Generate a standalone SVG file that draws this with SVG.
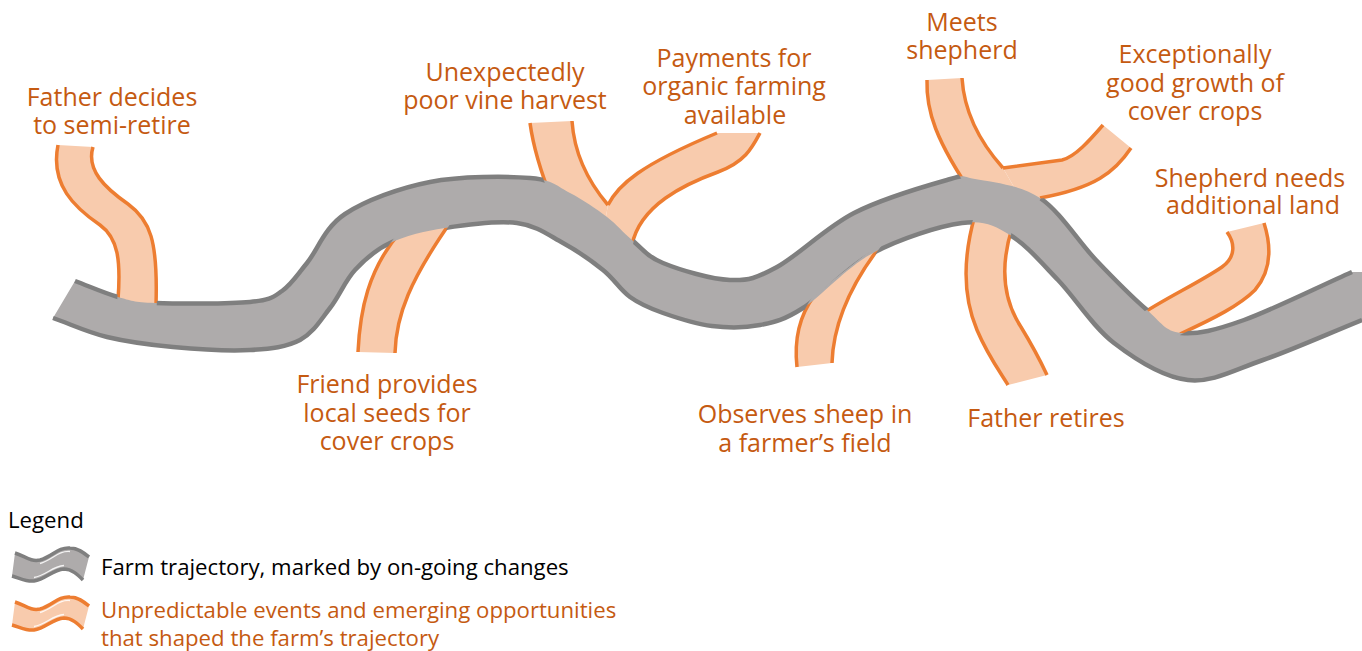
<svg xmlns="http://www.w3.org/2000/svg" xmlns:xlink="http://www.w3.org/1999/xlink" width="1362" height="651" viewBox="0 0 1362 651">
<style>
.lbl{font-family:"Open Sans","Liberation Sans",sans-serif;font-size:25px;fill:#C55A11;text-anchor:middle}
.leg{font-family:"Open Sans","Liberation Sans",sans-serif;font-size:22.2px}
.bf{fill:#F8CBAD}
.be{fill:none;stroke:#ED7D31;stroke-width:3.5}
.tf{fill:#AEABAB}
.te{fill:none;stroke:#7F7F7F;stroke-width:4.5}
.hl{fill:none;stroke:#fff;stroke-width:1.3;opacity:0.85}
</style>
<defs>
<path id="f1" d="M58,145 C50,185 75,208 100,225 C118,238 121,260 118,300 L118,312 L156,312 L156,305 C158,240 150,220 128,204 C105,188 86,170 93,147 Z"/>
<path id="f2" d="M358,352 C360,310 368,270 400,232 L452,220 C410,280 396,315 395,353 Z"/>
<path id="f3" d="M530,123 C533,145 540,170 552,200 L600,250 L608,205 C585,178 574,150 572,121 Z"/>
<path id="f4" d="M608,205 C618,185 640,165 717,133 L760,133 C752,148 745,162 718,172 C685,184 640,205 632,245 L600,250 Z"/>
<path id="f5" d="M927,80 C926,110 935,140 975,198 L1030,215 L1003,168 C978,140 964,110 962,78 Z"/>
<path id="f6" d="M1003,168 L1062,160 C1075,157 1090,140 1103,125 L1131,148 C1115,172 1095,188 1040,198 L1030,215 Z"/>
<path id="f7" d="M975,215 C965,250 960,290 977,330 C987,354 1000,372 1008,385 L1047,375 C1040,360 1032,345 1021,327 C1000,295 1002,260 1012,228 L1000,215 Z"/>
<path id="f8" d="M797,367 C794,340 800,315 814,296 L885,240 C845,290 833,330 832,363 Z"/>
<path id="f9" d="M1227,232 C1235,243 1236,257 1222,267 C1200,282 1170,296 1145,312 L1165,340 L1180,334 C1215,318 1240,305 1255,290 C1272,270 1271,245 1264,223 Z"/>
<mask id="edgeMask" maskUnits="userSpaceOnUse" x="0" y="0" width="1362" height="651">
<rect width="1362" height="651" fill="#fff"/>
<g fill="#000" stroke="#000" stroke-width="1.5">
<use href="#f1"/><use href="#f2"/><use href="#f3"/><use href="#f4"/><use href="#f5"/><use href="#f6"/><use href="#f7"/><use href="#f8"/><use href="#f9"/>
</g>
</mask>
<path id="gw-top" d="M15,553 C25,556 30,562 40,560 C52,557 58,547 70,548 C78,548 84,553 89,557"/>
<path id="gw-bot" d="M12,576 C20,578 26,582 34,581 C46,579 52,570 64,569 C72,569 78,575 83,580"/>
<path id="gw-fill" d="M15,553 C25,556 30,562 40,560 C52,557 58,547 70,548 C78,548 84,553 89,557 L83,580 C78,575 72,569 64,569 C52,570 46,579 34,581 C26,582 20,578 12,576 Z"/>
</defs>

<g id="n-father-semi-retire">
<use href="#f1" class="bf"/>
<path class="be" d="M58,145 C50,185 75,208 100,225 C118,238 121,260 118,300"/>
<path class="be" d="M93,147 C86,170 105,188 128,204 C150,220 158,240 156,305"/>
<text class="lbl" x="112" y="106">Father decides</text>
<text class="lbl" x="112" y="134">to semi-retire</text>
</g>

<g id="n-friend-seeds">
<use href="#f2" class="bf"/>
<path class="be" d="M358,352 C360,310 368,270 400,232"/>
<path class="be" d="M395,353 C396,315 410,280 452,220"/>
<text class="lbl" x="387" y="393">Friend provides</text>
<text class="lbl" x="387" y="421.5">local seeds for</text>
<text class="lbl" x="387" y="450">cover crops</text>
</g>

<g id="n-poor-vine-harvest">
<use href="#f3" class="bf"/>
<path class="be" d="M530,123 C533,145 540,170 552,200"/>
<path class="be" d="M572,121 C574,150 585,178 608,205"/>
<text class="lbl" x="505" y="81">Unexpectedly</text>
<text class="lbl" x="505" y="109">poor vine harvest</text>
</g>

<g id="n-organic-payments">
<use href="#f4" class="bf"/>
<path class="be" d="M608,205 C618,185 640,165 717,133"/>
<path class="be" d="M760,133 C752,148 745,162 718,172 C685,184 640,205 632,245"/>
<text class="lbl" x="734" y="66.5">Payments for</text>
<text class="lbl" x="734" y="95">organic farming</text>
<text class="lbl" x="735" y="123.5">available</text>
</g>

<g id="n-meets-shepherd">
<use href="#f5" class="bf"/>
<path class="be" d="M927,80 C926,110 935,140 975,198"/>
<path class="be" d="M962,78 C964,110 978,140 1003,168"/>
<text class="lbl" x="962" y="30.5">Meets</text>
<text class="lbl" x="962" y="59">shepherd</text>
</g>

<g id="n-good-growth">
<use href="#f6" class="bf"/>
<path class="be" d="M1003,168 L1062,160 C1075,157 1090,140 1103,125"/>
<path class="be" d="M1131,148 C1115,172 1095,188 1040,198"/>
<text class="lbl" x="1195" y="63">Exceptionally</text>
<text class="lbl" x="1195" y="91.5">good growth of</text>
<text class="lbl" x="1195" y="120">cover crops</text>
</g>

<g id="n-father-retires">
<use href="#f7" class="bf"/>
<path class="be" d="M975,215 C965,250 960,290 977,330 C987,354 1000,372 1008,385"/>
<path class="be" d="M1012,228 C1002,260 1000,295 1021,327 C1032,345 1040,360 1047,375"/>
<text class="lbl" x="1046" y="426.5">Father retires</text>
</g>

<g id="n-observes-sheep">
<use href="#f8" class="bf"/>
<path class="be" d="M797,367 C794,340 800,315 814,296"/>
<path class="be" d="M832,363 C833,330 845,290 885,240"/>
<text class="lbl" x="805" y="422.5">Observes sheep in</text>
<text class="lbl" x="805" y="451.5">a farmer’s field</text>
</g>

<g id="n-shepherd-land">
<use href="#f9" class="bf"/>
<path class="be" d="M1227,232 C1235,243 1236,257 1222,267 C1200,282 1170,296 1145,312"/>
<path class="be" d="M1264,223 C1271,245 1272,270 1255,290 C1240,305 1215,318 1180,334"/>
<text class="lbl" x="1250" y="186.5">Shepherd needs</text>
<text class="lbl" x="1253" y="214">additional land</text>
</g>

<g id="n-trajectory">
<path class="tf" d="M75,281 C89.3,286.3 104.7,293.3 118,297 S133,302.2 155,303 S228.8,304 250,302 S272.5,297.5 282,291 S296.5,275.8 307,263 S324.5,227.5 345,214 S399.2,188 430,182 S506.7,176.2 530,178 S557.2,186.5 570,193 S596.7,209.2 607,217 S622.7,232.3 632,240 S646.7,256.3 663,263 S711,279.3 730,280 S756.3,278.2 777,267 S825.7,227.5 854,213 S926.8,185.7 947,180 S959.5,176 975,179 S1019.8,184.5 1040,198 S1078.2,241.3 1096,260 S1132.8,297.8 1147,310 S1164.8,331.3 1181,333 S1215.5,330.2 1244,320 S1316,288 1352,272 L1362,272 L1362,320 C1329,333.3 1292,350 1263,360 S1212.8,382.8 1188,380 S1135.7,359.7 1114,343 S1075.3,298 1058,280 S1026,244.5 1010,235 S984.8,220 962,223 S899.5,238.8 873,253 S821.8,296 803,308 S775.2,322 760,325 S728.2,328 712,326 S676.7,317.8 663,313 S640,304.2 630,297 S614.2,279 603,270 S577.3,250.8 563,243 S536.7,225.5 517,223 S466.2,224.7 445,228 S405,236 390,243 S365,259.2 355,270 S339.2,296.3 330,308 S313.3,333 300,340 S271.2,348.8 250,350 S196.8,349.2 173,347 S127,341.8 107,337 S71,324.3 53,318 Z"/>
<g mask="url(#edgeMask)">
<path class="te" d="M75,281 C89.3,286.3 104.7,293.3 118,297 S133,302.2 155,303 S228.8,304 250,302 S272.5,297.5 282,291 S296.5,275.8 307,263 S324.5,227.5 345,214 S399.2,188 430,182 S506.7,176.2 530,178 S557.2,186.5 570,193 S596.7,209.2 607,217 S622.7,232.3 632,240 S646.7,256.3 663,263 S711,279.3 730,280 S756.3,278.2 777,267 S825.7,227.5 854,213 S926.8,185.7 947,180 S959.5,176 975,179 S1019.8,184.5 1040,198 S1078.2,241.3 1096,260 S1132.8,297.8 1147,310 S1164.8,331.3 1181,333 S1215.5,330.2 1244,320 S1316,288 1352,272"/>
<path class="te" d="M1362,320 C1329,333.3 1292,350 1263,360 S1212.8,382.8 1188,380 S1135.7,359.7 1114,343 S1075.3,298 1058,280 S1026,244.5 1010,235 S984.8,220 962,223 S899.5,238.8 873,253 S821.8,296 803,308 S775.2,322 760,325 S728.2,328 712,326 S676.7,317.8 663,313 S640,304.2 630,297 S614.2,279 603,270 S577.3,250.8 563,243 S536.7,225.5 517,223 S466.2,224.7 445,228 S405,236 390,243 S365,259.2 355,270 S339.2,296.3 330,308 S313.3,333 300,340 S271.2,348.8 250,350 S196.8,349.2 173,347 S127,341.8 107,337 S71,324.3 53,318"/>
</g>
</g>

<g id="legend">
<text class="leg" x="8" y="528" fill="#000">Legend</text>
<g id="legend-trajectory">
<use href="#gw-fill" class="tf"/>
<use href="#gw-top" class="te" style="stroke-width:3.5"/>
<use href="#gw-bot" class="te" style="stroke-width:3.5"/>
<path class="hl" d="M40,563.5 C52,560.5 58,550.5 70,551.5"/>
<path class="hl" d="M34,577.5 C46,575.5 52,566.5 64,565.5"/>
<text class="leg" x="101" y="575" fill="#000">Farm trajectory, marked by on-going changes</text>
</g>
<g id="legend-events">
<g transform="translate(0,49)">
<use href="#gw-fill" class="bf"/>
<use href="#gw-top" class="be"/>
<use href="#gw-bot" class="be"/>
<path class="hl" d="M40,563.5 C52,560.5 58,550.5 70,551.5"/>
<path class="hl" d="M34,577.5 C46,575.5 52,566.5 64,565.5"/>
</g>
<text class="leg" x="101" y="618" fill="#C55A11">Unpredictable events and emerging opportunities</text>
<text class="leg" x="101" y="646" fill="#C55A11">that shaped the farm’s trajectory</text>
</g>
</g>
</svg>
